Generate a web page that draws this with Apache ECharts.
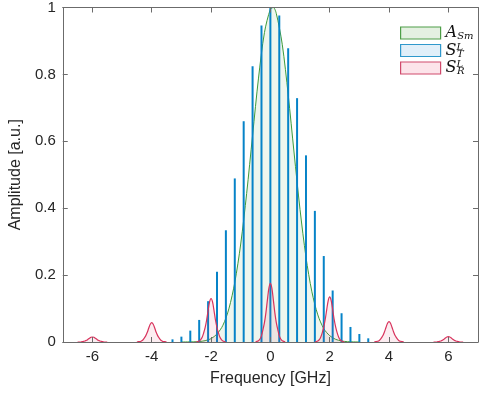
<!DOCTYPE html>
<html><head><meta charset="utf-8">
<script src="https://cdn.jsdelivr.net/npm/echarts@6/dist/echarts.min.js"></script>
<style>html,body{margin:0;padding:0;background:#fff}#c{width:484px;height:394px}</style>
</head><body><div id="c"></div>
<script>
// ---- data ----
const xTickValues = [-6, -4, -2, 0, 2, 4, 6];
const yTickValues = [0, 0.2, 0.4, 0.6, 0.8, 1];

// A_Sm envelope (green)
const greenFreq = [-3.0,-2.8,-2.6,-2.4,-2.2,-2.0,-1.8,-1.6,-1.4,-1.2,-1.0,-0.8,-0.6,-0.4,-0.2,0.0,0.1,0.2,0.4,0.6,0.8,1.0,1.2,1.4,1.6,1.8,2.0,2.2,2.4,2.6,2.8,3.0];
const greenAmp  = [0,0.0002,0.0005,0.0014,0.004,0.010,0.024,0.050,0.099,0.178,0.293,0.444,0.618,0.789,0.925,0.995,1.0,0.982,0.890,0.740,0.565,0.396,0.254,0.150,0.081,0.040,0.019,0.008,0.003,0.001,0.0003,0];

// S_T^L comb lines (blue)
const blueFreq = [-3.3,-3.0,-2.7,-2.4,-2.1,-1.8,-1.5,-1.2,-0.9,-0.6,-0.3,0,0.3,0.6,0.9,1.2,1.5,1.8,2.1,2.4,2.7,3.0,3.3];
const blueAmp  = [0.008,0.016,0.034,0.066,0.122,0.21,0.334,0.489,0.66,0.824,0.946,1.0,0.976,0.878,0.729,0.558,0.392,0.257,0.154,0.086,0.045,0.024,0.011];

// S_R^L peaks (red)
const redCenters = [-6, -4, -2, 0, 2, 4, 6];
const redOffsets = [-0.5,-0.45,-0.4,-0.35,-0.3,-0.25,-0.2,-0.15,-0.1,-0.05,0,0.05,0.1,0.15,0.2,0.25,0.3,0.35,0.4,0.45,0.5];
const redAmpM6 = [0,0,0,0.001,0.002,0.003,0.005,0.008,0.011,0.014,0.015,0.014,0.011,0.008,0.005,0.003,0.002,0.001,0,0,0];
const redAmpM4 = [0,0.001,0.001,0.003,0.006,0.012,0.019,0.029,0.042,0.053,0.058,0.053,0.042,0.029,0.019,0.012,0.006,0.003,0.001,0.001,0];
const redAmpM2 = [0,0.001,0.003,0.007,0.014,0.027,0.043,0.065,0.094,0.12,0.13,0.12,0.094,0.065,0.043,0.027,0.014,0.007,0.003,0.001,0];
const redAmp0  = [0,0.002,0.004,0.009,0.019,0.037,0.058,0.088,0.126,0.161,0.175,0.161,0.126,0.088,0.058,0.037,0.019,0.009,0.004,0.002,0];
const redAmpP2 = [0,0.001,0.003,0.007,0.015,0.028,0.045,0.068,0.097,0.124,0.135,0.124,0.097,0.068,0.045,0.028,0.015,0.007,0.003,0.001,0];
const redAmpP4 = [0,0.001,0.002,0.003,0.007,0.013,0.020,0.031,0.044,0.056,0.061,0.056,0.044,0.031,0.020,0.013,0.007,0.003,0.002,0.001,0];
const redAmpP6 = [0,0,0,0.001,0.002,0.003,0.005,0.008,0.012,0.015,0.016,0.015,0.012,0.008,0.005,0.003,0.002,0.001,0,0,0];
const redAmps = [redAmpM6, redAmpM4, redAmpM2, redAmp0, redAmpP2, redAmpP4, redAmpP6];

// ---- build series data ----
const greenData = greenFreq.map((f, i) => [f, greenAmp[i]]);
const blueData = blueFreq.map((f, i) => [f, blueAmp[i]]);
const redData = [];
redCenters.forEach((c, k) => {
  if (k > 0) redData.push([c - 1, null]);
  redOffsets.forEach((o, i) => redData.push([+(c + o).toFixed(3), redAmps[k][i]]));
});

const axisColor = '#6b6b6b';
const labelColor = '#262626';
const fontFam = '"Liberation Sans", Arial, Helvetica, sans-serif';
const serif = '"DejaVu Serif", "Liberation Serif", serif';

const chart = echarts.init(document.getElementById('c'), null, {renderer: 'canvas'});
chart.setOption({
  animation: false,
  backgroundColor: '#fff',
  grid: {left: 50, right: 6, top: 6, bottom: 52, containLabel: false},
  xAxis: [{
    type: 'value', min: -7, max: 7, position: 'bottom', z: 10,
    name: 'Frequency [GHz]', nameLocation: 'middle', nameGap: 29,
    nameTextStyle: {fontFamily: fontFam, fontSize: 16, color: labelColor},
    axisLine: {show: true, onZero: false, lineStyle: {color: axisColor, width: 1}},
    axisTick: {show: true, inside: true, length: 5, customValues: xTickValues, lineStyle: {color: axisColor}},
    axisLabel: {show: true, margin: 7, fontFamily: fontFam, fontSize: 15, color: labelColor,
      customValues: xTickValues, hideOverlap: false, formatter: v => String(v)},
    splitLine: {show: false}
  }, {
    type: 'value', min: -7, max: 7, position: 'top', z: 10,
    axisLine: {show: true, onZero: false, lineStyle: {color: axisColor, width: 1}},
    axisTick: {show: true, inside: true, length: 5, customValues: xTickValues, lineStyle: {color: axisColor}},
    axisLabel: {show: false}, splitLine: {show: false}
  }],
  yAxis: [{
    type: 'value', min: 0, max: 1, position: 'left', z: 10,
    name: 'Amplitude [a.u.]', nameLocation: 'middle', nameGap: 33, nameRotate: 90,
    nameTextStyle: {fontFamily: fontFam, fontSize: 16, color: labelColor},
    axisLine: {show: true, onZero: false, lineStyle: {color: axisColor, width: 1}},
    axisTick: {show: true, inside: true, length: 5, customValues: yTickValues, lineStyle: {color: axisColor}},
    axisLabel: {show: true, margin: 7, fontFamily: fontFam, fontSize: 15, color: labelColor,
      customValues: yTickValues, formatter: v => String(+(+v).toFixed(1))},
    splitLine: {show: false}
  }, {
    type: 'value', min: 0, max: 1, position: 'right', z: 10,
    axisLine: {show: true, onZero: false, lineStyle: {color: axisColor, width: 1}},
    axisTick: {show: true, inside: true, length: 5, customValues: yTickValues, lineStyle: {color: axisColor}},
    axisLabel: {show: false}, splitLine: {show: false}
  }],
  legend: {
    orient: 'vertical', left: 395, top: 19.5, itemWidth: 40, itemHeight: 12, itemGap: 0.5,
    icon: 'rect', selectedMode: false,
    data: [
      {name: 'ASm', itemStyle: {color: '#e4f0e1', borderColor: '#4e9e48', borderWidth: 1.2}},
      {name: 'STL', itemStyle: {color: '#e1eff9', borderColor: '#2f98cc', borderWidth: 1.2}},
      {name: 'SRL', itemStyle: {color: '#fce4ea', borderColor: '#d04a6c', borderWidth: 1.2}}
    ],
    formatter: function (n) {
      if (n === 'ASm') return '{b|A}{sub|Sm}';
      if (n === 'STL') return '{b|S}{sup|L}{sub|T}';
      return '{b|S}{sup|L}{sub|R}';
    },
    textStyle: {
      color: '#111', lineHeight: 17,
      rich: {
        b: {fontFamily: serif, fontStyle: 'italic', fontSize: 16, lineHeight: 17, color: '#111', verticalAlign: 'middle'},
        sup: {fontFamily: serif, fontStyle: 'italic', fontSize: 10, lineHeight: 11, color: '#111', verticalAlign: 'top', width: 0.5},
        sub: {fontFamily: serif, fontStyle: 'italic', fontSize: 10, lineHeight: 11, color: '#111', verticalAlign: 'bottom', padding: [6, 0, 0, 0]}
      }
    }
  },
  series: [{
    name: 'ASm', type: 'line', data: greenData, smooth: 0.3, showSymbol: false, z: 1,
    lineStyle: {color: '#3d9a3a', width: 1},
    itemStyle: {color: '#3d9a3a'},
    areaStyle: {color: 'rgba(70,160,70,0.13)', origin: 'start'}
  }, {
    name: 'STL', type: 'bar', data: blueData, barWidth: 2, z: 2,
    itemStyle: {color: '#0683c8'}
  }, {
    name: 'SRL', type: 'line', data: redData, smooth: 0.3, showSymbol: false, connectNulls: false, z: 3,
    lineStyle: {color: '#d8325c', width: 1.2},
    itemStyle: {color: '#d8325c'},
    areaStyle: {color: 'rgba(216,50,92,0.12)', origin: 'start'}
  }]
});
</script>
</body></html>
